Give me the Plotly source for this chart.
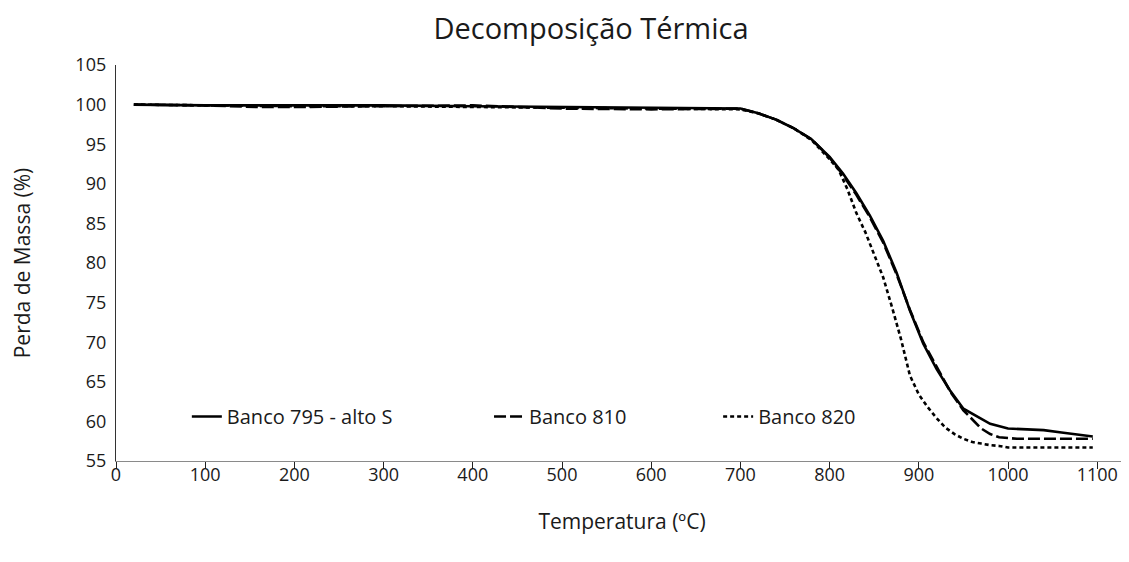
import plotly.graph_objects as go

# ---- data ----
temp_795 = [20, 100, 200, 300, 400, 500, 600, 700, 720, 740, 760, 780, 800, 815, 830, 845,
            860, 875, 890, 905, 920, 935, 950, 965, 980, 1000, 1020, 1040, 1060, 1080, 1095]
mass_795 = [100.0, 99.9, 99.9, 99.9, 99.8, 99.7, 99.6, 99.5, 98.9, 98.1, 97.0, 95.6, 93.4, 91.3, 88.8, 86.0,
            82.8, 78.8, 74.0, 69.8, 66.6, 63.9, 61.6, 60.6, 59.7, 59.1, 59.0, 58.9, 58.6, 58.3, 58.1]

temp_810 = [20, 100, 160, 200, 300, 400, 500, 600, 700, 720, 740, 760, 780, 800, 815, 830,
            845, 860, 875, 890, 905, 920, 935, 950, 960, 970, 980, 990, 1000, 1010, 1050, 1095]
mass_810 = [100.0, 99.9, 99.7, 99.7, 99.8, 99.9, 99.5, 99.4, 99.5, 98.9, 98.1, 97.0, 95.6, 93.3, 91.1, 88.6,
            85.8, 82.6, 78.6, 74.1, 70.0, 66.8, 63.8, 61.4, 60.2, 59.1, 58.4, 58.0, 57.9, 57.8, 57.8, 57.8]

temp_820 = [20, 100, 200, 300, 400, 500, 600, 700, 720, 740, 760, 780, 800, 810, 820, 830, 840, 850,
            860, 870, 880, 890, 900, 910, 920, 930, 940, 950, 960, 970, 980, 990, 1000, 1050, 1095]
mass_820 = [100.0, 99.9, 99.8, 99.8, 99.7, 99.6, 99.5, 99.4, 98.9, 98.1, 97.0, 95.5, 93.1, 91.8, 89.3, 86.3, 83.9, 81.0,
            78.2, 74.4, 70.4, 65.8, 63.4, 61.8, 60.4, 59.2, 58.4, 57.8, 57.4, 57.2, 57.0, 56.9, 56.7, 56.7, 56.7]

series_names = ["Banco 795 - alto S", "Banco 810", "Banco 820"]
x_ticks = [0, 100, 200, 300, 400, 500, 600, 700, 800, 900, 1000, 1100]
y_ticks = [55, 60, 65, 70, 75, 80, 85, 90, 95, 100, 105]

FONT = "Open Sans"
TXT = "#1a1a1a"

fig = go.Figure()
fig.add_trace(go.Scatter(x=temp_795, y=mass_795, mode="lines", name=series_names[0],
                         line=dict(color="black", width=2.6), legend="legend"))
fig.add_trace(go.Scatter(x=temp_810, y=mass_810, mode="lines", name=series_names[1],
                         line=dict(color="black", width=2.6, dash="12px,4px"), legend="legend2"))
fig.add_trace(go.Scatter(x=temp_820, y=mass_820, mode="lines", name=series_names[2],
                         line=dict(color="black", width=2.6, dash="4px,3px"), legend="legend3"))

leg_common = dict(orientation="h", yanchor="middle", y=0.1125, xanchor="left",
                  bgcolor="rgba(0,0,0,0)", font=dict(family=FONT, size=20, color=TXT))

# the page body adds an 8 px offset, so the figure is sized/margined to compensate
fig.update_layout(
    width=1121, height=554,
    showlegend=True,
    margin=dict(l=108, r=1, t=57, b=101),
    paper_bgcolor="white", plot_bgcolor="white",
    title=dict(text="Decomposição Térmica", x=583 / 1121, xref="container", xanchor="center",
               y=1 - 21 / 554, yref="container", yanchor="middle",
               font=dict(family=FONT, size=29, color=TXT)),
    legend=dict(x=0.070, **leg_common),
    legend2=dict(x=0.3686, **leg_common),
    legend3=dict(x=0.595, **leg_common),
    xaxis=dict(range=[0, 1134.5], tickvals=x_ticks, showgrid=False, zeroline=False,
               automargin=False,
               showline=True, linecolor="#8a8a8a", linewidth=1.3,
               ticks="outside", ticklen=7, tickcolor="#222", tickwidth=1,
               ticklabelstandoff=-10,
               tickfont=dict(family=FONT, size=18, color=TXT),
               title=dict(text="Temperatura (ºC)", font=dict(family=FONT, size=21, color=TXT), standoff=29)),
    yaxis=dict(range=[55, 105], tickvals=y_ticks, showgrid=False, zeroline=False,
               automargin=False,
               showline=True, linecolor="#333", linewidth=1.3, ticks="",
               ticklabelstandoff=5,
               tickfont=dict(family=FONT, size=18, color=TXT),
               title=dict(text="Perda de Massa (%)", font=dict(family=FONT, size=21, color=TXT), standoff=44)),
)

fig.write_html("out.html")
